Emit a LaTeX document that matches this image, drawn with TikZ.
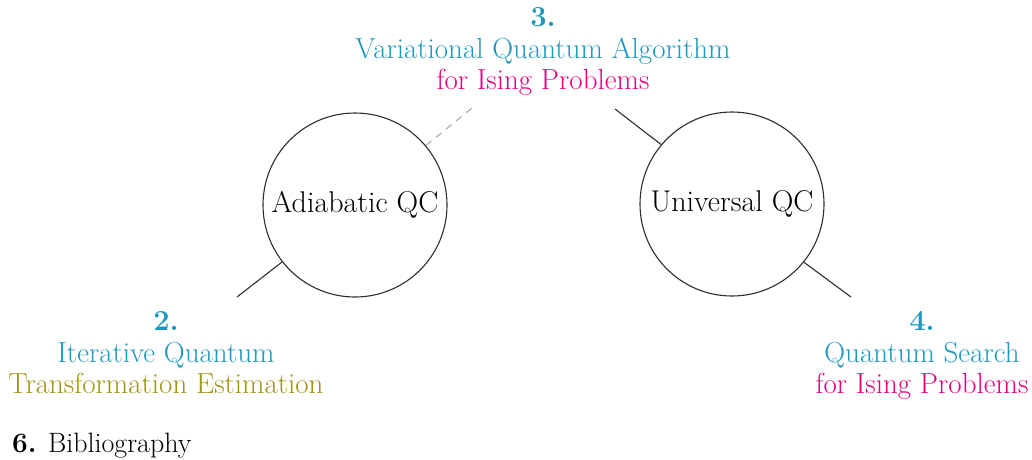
\documentclass[tikz,border=0pt]{standalone}
\usepackage{xcolor}
\definecolor{qcyan}{RGB}{30,152,190}
\definecolor{qpink}{RGB}{230,0,126}
\definecolor{qolive}{RGB}{160,148,20}
\definecolor{qline}{RGB}{45,45,45}
\definecolor{qdash}{RGB}{170,170,170}
\begin{document}
\begin{tikzpicture}[x=1pt,y=-1pt,
  qcbox/.style={circle,draw=qline,line width=1.1pt,minimum size=184pt,inner sep=0pt,
    font=\fontsize{30}{31}\selectfont},
  lbl/.style={anchor=base,inner sep=0pt,font=\fontsize{29}{31}\selectfont},
  num/.style={lbl,font=\fontsize{29}{31}\selectfont\bfseries,text=qcyan},
  link/.style={draw=qline,line width=1.1pt},
  weak/.style={draw=qdash,line width=1.1pt,dash pattern=on 7pt off 6pt}]
  \useasboundingbox (0,0) rectangle (1032,459);

  % the two computing models
  \node[qcbox] (adqc) at (355,205) {Adiabatic QC};
  \node[qcbox] (unqc) at (732,204) {Universal QC};

  % chapter 3, top centre
  \node[num] (n3) at (543,26) {3.};
  \node[lbl,text=qcyan] (t3a) at (543,58) {Variational Quantum Algorithm};
  \node[lbl,text=qpink] (t3b) at (543,89) {for Ising Problems};

  % chapter 2, lower left
  \node[num] (n2) at (166,330) {2.};
  \node[lbl,text=qcyan] (t2a) at (166,362) {Iterative Quantum};
  \node[lbl,text=qolive] (t2b) at (166,393) {Transformation Estimation};

  % chapter 4, lower right
  \node[num] (n4) at (922,330) {4.};
  \node[lbl,text=qcyan] (t4a) at (922,362) {Quantum Search};
  \node[lbl,text=qpink] (t4b) at (922,393) {for Ising Problems};

  % bibliography entry
  \node[lbl,anchor=base west,font=\fontsize{28}{31}\selectfont] (bib) at (12,452) {\textbf{6.} Bibliography};

  % connector ends
  \coordinate (e2) at (237,297);
  \coordinate (e3l) at (472,108);
  \coordinate (e3r) at (615,109);
  \coordinate (e4) at (851,297);

  \draw[link] (adqc.218) -- (e2);
  \draw[weak] (adqc.40) -- (e3l);
  \draw[link] (unqc.140) -- (e3r);
  \draw[link] (unqc.321) -- (e4);
\end{tikzpicture}
\end{document}
